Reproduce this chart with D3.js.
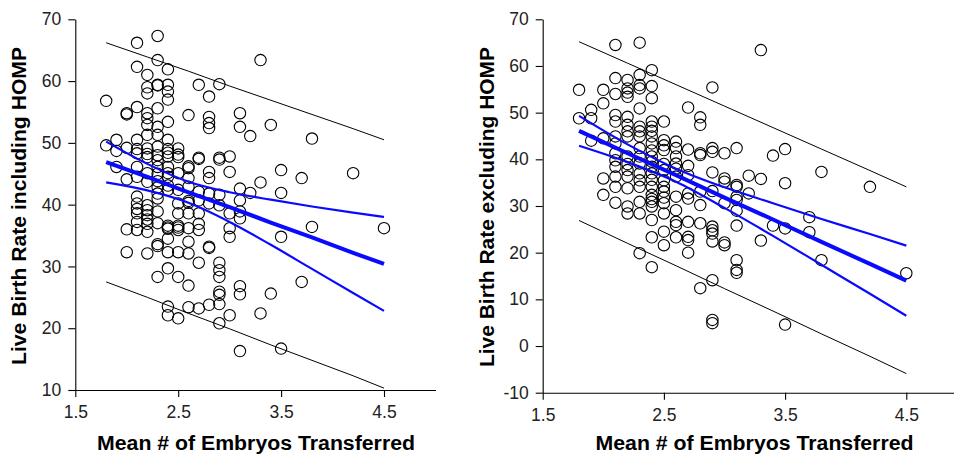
<!DOCTYPE html>
<html>
<head>
<meta charset="utf-8">
<script src="https://cdn.jsdelivr.net/npm/d3@7"></script>
<style>
  body { margin: 0; background: #fff; }
  svg { display: block; font-family: "Liberation Sans", Arial, sans-serif; }
</style>
</head>
<body>
<div id="chart"></div>
<script>
// x ticks shared by both panels
const xTicks = [1.5, 2.5, 3.5, 4.5];
const yTicksIncl = [10, 20, 30, 40, 50, 60, 70];
const yTicksExcl = [-10, 0, 10, 20, 30, 40, 50, 60, 70];

// Live birth rate including HOMP, grouped by mean # embryos transferred
const inclPoints = [
  [1.8, [56.8, 49.6]],
  [1.9, [50.5, 48.7, 46.1]],
  [2.0, [54.8, 54.6, 49.2, 44.1, 36.0, 32.3]],
  [2.1, [66.2, 62.3, 55.8, 50.5, 49.0, 48.3, 46.1, 44.5, 41.3, 40.2, 39.3, 38.6, 37.2, 35.9]],
  [2.2, [61.0, 59.0, 58.0, 54.8, 54.0, 52.9, 51.3, 49.1, 48.2, 47.7, 45.1, 43.7, 39.9, 39.1, 38.3, 37.6, 36.9, 35.6, 32.1]],
  [2.3, [67.3, 63.4, 59.4, 59.3, 55.6, 52.6, 51.3, 49.4, 48.0, 47.2, 46.1, 45.0, 43.8, 42.8, 41.8, 41.0, 38.9, 37.0, 33.6, 33.3, 28.3]],
  [2.4, [61.9, 59.4, 58.3, 57.0, 53.4, 50.5, 49.0, 48.4, 47.8, 46.1, 45.1, 44.5, 43.1, 42.4, 36.6, 36.3, 36.1, 34.5, 32.3, 29.7, 23.5, 22.1]],
  [2.5, [49.1, 48.1, 47.7, 45.1, 42.4, 40.2, 38.6, 36.6, 36.3, 35.9, 32.3, 28.3, 21.6]],
  [2.6, [54.5, 46.2, 45.9, 44.3, 42.9, 40.6, 40.3, 38.6, 36.2, 34.0, 32.1, 26.9, 23.4]],
  [2.7, [59.4, 47.6, 47.4, 42.1, 40.7, 38.6, 36.9, 35.9, 30.6, 23.2]],
  [2.8, [57.5, 54.2, 53.2, 52.4, 45.3, 44.3, 41.8, 40.2, 33.2, 33.0, 23.8]],
  [2.9, [59.5, 47.6, 47.3, 41.6, 39.9, 30.6, 29.4, 28.3, 25.9, 25.4, 23.9, 20.8]],
  [3.0, [47.8, 45.3, 38.6, 36.2, 34.8, 22.1]],
  [3.1, [54.8, 52.6, 42.6, 40.7, 38.9, 37.8, 26.8, 25.5, 16.3]],
  [3.2, [51.1, 41.9]],
  [3.3, [63.4, 43.6, 22.4]],
  [3.4, [52.9, 25.6]],
  [3.5, [45.6, 41.9, 34.8, 16.7]],
  [3.7, [44.3, 27.5]],
  [3.8, [50.7, 36.4]],
  [4.2, [45.1]],
  [4.5, [36.2]]
];

// Live birth rate excluding HOMP
const exclPoints = [
  [1.8, [54.9, 48.8]],
  [1.9, [50.6, 48.8, 44.0]],
  [2.0, [54.9, 52.0, 44.5, 35.9, 32.4]],
  [2.1, [64.5, 57.4, 54.0, 49.5, 48.1, 44.9, 43.4, 41.3, 39.8, 38.4, 36.3, 34.1, 30.7]],
  [2.2, [57.0, 55.2, 54.3, 53.4, 49.1, 47.4, 46.0, 44.9, 40.6, 39.0, 37.7, 36.3, 33.8, 29.9, 28.4]],
  [2.3, [65.0, 58.1, 55.9, 55.2, 50.9, 47.0, 46.0, 44.9, 42.4, 40.6, 39.1, 37.0, 35.5, 34.1, 30.9, 28.4, 19.9]],
  [2.4, [59.1, 55.7, 53.1, 48.1, 47.0, 46.1, 44.9, 43.4, 41.9, 40.6, 39.5, 38.4, 37.0, 35.6, 34.1, 32.4, 31.5, 30.9, 29.9, 27.0, 23.3, 16.9]],
  [2.5, [48.1, 44.1, 43.0, 42.0, 39.0, 37.7, 35.5, 34.1, 33.1, 31.8, 30.6, 28.4, 24.5, 21.6]],
  [2.6, [43.8, 42.4, 40.6, 39.1, 38.0, 36.3, 32.0, 29.1, 26.6, 25.9, 23.3]],
  [2.7, [51.1, 42.1, 38.6, 36.6, 32.7, 31.6, 26.6, 23.4, 22.7, 20.0]],
  [2.8, [49.0, 47.4, 41.3, 40.9, 33.1, 30.2, 26.3, 12.4]],
  [2.9, [55.4, 42.4, 41.6, 37.2, 33.2, 25.6, 24.8, 24.1, 22.4, 14.1, 5.6, 4.9]],
  [3.0, [41.3, 35.9, 35.2, 30.6, 22.2, 21.6]],
  [3.1, [42.4, 34.5, 34.1, 32.0, 31.3, 29.0, 25.8, 18.4, 16.3, 15.7]],
  [3.2, [36.5, 32.7]],
  [3.3, [63.4, 35.8, 22.6]],
  [3.4, [40.8, 25.8]],
  [3.5, [42.2, 34.9, 25.2, 4.6]],
  [3.7, [27.6, 24.4]],
  [3.8, [37.3, 18.4]],
  [4.2, [34.1]],
  [4.5, [15.6]]
];

// regression lines, read at these x positions
const lineX = [1.8, 2.2, 2.6, 3.0, 3.4, 3.8, 4.2, 4.5];
const inclFit = [46.9, 44.5, 42.0, 39.6, 37.1, 34.7, 32.2, 30.4];
const inclCiHi = [50.2, 46.6, 43.7, 42.0, 40.8, 39.7, 38.7, 38.0];
const inclCiLo = [43.6, 42.3, 40.3, 37.2, 33.5, 29.6, 25.7, 22.8];
const inclPiHi = [66.2, 63.9, 61.6, 59.2, 56.9, 54.6, 52.3, 50.5];
const inclPiLo = [27.5, 25.0, 22.4, 19.9, 17.3, 14.8, 12.3, 10.3];

const exclFit = [46.1, 41.3, 36.6, 31.8, 27.1, 22.3, 17.6, 14.0];
const exclCiHi = [49.3, 43.2, 38.0, 34.0, 30.6, 27.2, 24.0, 21.5];
const exclCiLo = [42.9, 39.4, 35.2, 29.6, 23.6, 17.4, 11.2, 6.5];
const exclPiHi = [65.2, 60.6, 56.0, 51.4, 46.8, 42.2, 37.6, 34.1];
const exclPiLo = [26.9, 22.0, 17.2, 12.3, 7.5, 2.6, -2.2, -5.9];

const W = 954, H = 455;
const svg = d3.select("#chart").append("svg")
  .attr("width", W).attr("height", H);

function drawPanel(opt) {
  const x = d3.scaleLinear().domain([1.5, 5.0]).range([opt.left, opt.left + 3.5 * opt.xUnit]);
  const y = d3.scaleLinear().domain(opt.yDomain).range([opt.bottom, 19.3]);
  const g = svg.append("g");

  // axes
  const xAxis = g.append("g")
    .attr("transform", `translate(0,${opt.bottom})`)
    .call(d3.axisBottom(x).tickValues(xTicks).tickFormat(d3.format(".1f"))
      .tickSizeInner(7).tickSizeOuter(0).tickPadding(9));
  const yAxis = g.append("g")
    .attr("transform", `translate(${opt.left},0)`)
    .call(d3.axisLeft(y).tickValues(opt.yTicks).tickFormat(d => String(d))
      .tickSizeInner(7).tickSizeOuter(0).tickPadding(7));
  [xAxis, yAxis].forEach(a => {
    a.selectAll("text").attr("font-size", 17.5).attr("fill", "#222")
      .attr("font-family", "'Liberation Sans', Arial, sans-serif");
    a.selectAll("path, line").attr("stroke", "#000").attr("stroke-width", 1.1);
  });

  // scatter
  const pts = opt.points.flatMap(([xv, ys]) => ys.map(v => [xv, v]));
  g.append("g").selectAll("circle").data(pts).join("circle")
    .attr("cx", d => x(d[0])).attr("cy", d => y(d[1])).attr("r", 5.7)
    .attr("fill", "none").attr("stroke", "#000").attr("stroke-width", 1.1);

  // lines
  const mk = (vals, curve) => d3.line()
    .x((d, i) => x(lineX[i])).y(d => y(d)).curve(curve)(vals);
  const lines = [
    [opt.piHi, "#000", 1, d3.curveLinear],
    [opt.piLo, "#000", 1, d3.curveLinear],
    [opt.ciHi, "#0a0aff", 2.2, d3.curveMonotoneX],
    [opt.ciLo, "#0a0aff", 2.2, d3.curveMonotoneX],
    [opt.fit, "#0a0aff", 4, d3.curveLinear]
  ];
  lines.forEach(([vals, c, w, curve]) => {
    g.append("path").attr("d", mk(vals, curve))
      .attr("fill", "none").attr("stroke", c).attr("stroke-width", w);
  });

  // titles
  g.append("text")
    .attr("transform", `translate(${opt.yTitleX},${opt.yTitleY}) rotate(-90)`)
    .attr("text-anchor", "middle").attr("font-weight", "bold").attr("font-size", 20)
    .attr("textLength", opt.yTitleLen).attr("lengthAdjust", "spacingAndGlyphs")
    .text(opt.yTitle);
  g.append("text")
    .attr("x", opt.xTitleX).attr("y", 450)
    .attr("text-anchor", "middle").attr("font-weight", "bold").attr("font-size", 20)
    .attr("textLength", 318).attr("lengthAdjust", "spacingAndGlyphs")
    .text("Mean # of Embryos Transferred");
}

drawPanel({
  left: 75.3, xUnit: 102.9, bottom: 390, yDomain: [10, 70], yTicks: yTicksIncl,
  points: inclPoints, fit: inclFit, ciHi: inclCiHi, ciLo: inclCiLo, piHi: inclPiHi, piLo: inclPiLo,
  yTitle: "Live Birth Rate including HOMP", yTitleX: 26, yTitleY: 206, yTitleLen: 318,
  xTitleX: 256
});

drawPanel({
  left: 542.7, xUnit: 121.2, bottom: 392.7, yDomain: [-10, 70], yTicks: yTicksExcl,
  points: exclPoints, fit: exclFit, ciHi: exclCiHi, ciLo: exclCiLo, piHi: exclPiHi, piLo: exclPiLo,
  yTitle: "Live Birth Rate excluding HOMP", yTitleX: 494, yTitleY: 207, yTitleLen: 320,
  xTitleX: 754.5
});
</script>
</body>
</html>
